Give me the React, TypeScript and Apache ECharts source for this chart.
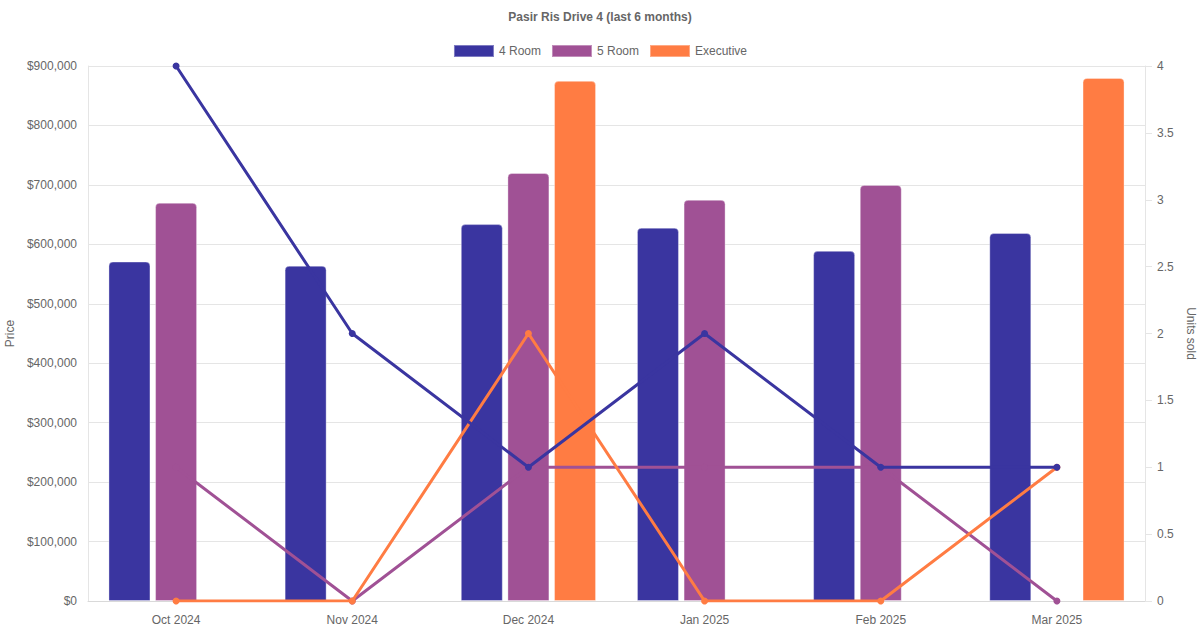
import React, { useEffect, useRef } from "react";
import * as echarts from "echarts";

const categories = ["Oct 2024", "Nov 2024", "Dec 2024", "Jan 2025", "Feb 2025", "Mar 2025"];
const seriesNames = ["4 Room", "5 Room", "Executive"];
const colors = ["#3a35a0", "#a05195", "#ff7c43"];

const price4Room = [571000, 564000, 634000, 628000, 589000, 619000];
const price5Room = [670000, null, 720000, 675000, 700000, null];
const priceExec = [null, null, 875000, null, null, 880000];

const units4Room = [4, 2, 1, 2, 1, 1];
const units5Room = [1, 0, 1, 1, 1, 0];
const unitsExec = [0, 0, 2, 0, 0, 1];

const FONT = "'Liberation Sans', Arial, Helvetica, sans-serif";
const TEXT = "#666";
const GRID = "#e5e5e5";

export default function App() {
  const ref = useRef<HTMLDivElement>(null);

  useEffect(() => {
    if (!ref.current) return;
    const chart = echarts.init(ref.current, undefined, { renderer: "svg" });
    const prices = [price4Room, price5Room, priceExec];
    const units = [units4Room, units5Room, unitsExec];
    const lineZ = [5, 3, 4];

    const barSeries = seriesNames.map((name, i) => ({
      name,
      type: "bar",
      yAxisIndex: 0,
      data: prices[i],
      barWidth: 42,
      barGap: "11%",
      z: 2,
      itemStyle: {
        color: colors[i],
        borderRadius: [4, 4, 0, 0],
        borderColor: "rgba(255,255,255,0.35)",
        borderWidth: 1,
      },
    }));

    const lineSeries = seriesNames.map((name, i) => ({
      name,
      type: "line",
      yAxisIndex: 1,
      data: units[i],
      z: lineZ[i],
      symbol: "circle",
      symbolSize: 7,
      lineStyle: { color: colors[i], width: 3 },
      itemStyle: { color: colors[i] },
    }));

    chart.setOption({
      animation: false,
      textStyle: { fontFamily: FONT },
      title: {
        text: "Pasir Ris Drive 4 (last 6 months)",
        left: "center",
        top: 11,
        padding: 0,
        textStyle: { fontSize: 12, fontWeight: "bold", color: TEXT, fontFamily: FONT },
      },
      legend: {
        data: seriesNames,
        top: 39,
        left: "center",
        icon: "rect",
        itemWidth: 40,
        itemHeight: 12,
        itemGap: 10,
        textStyle: { fontSize: 12, color: TEXT, fontFamily: FONT },
      },
      grid: {
        left: 88,
        right: 55,
        top: 66,
        bottom: 29,
        containLabel: false,
        outerBoundsMode: "none",
      },
      xAxis: {
        type: "category",
        data: categories,
        axisLine: { show: true, lineStyle: { color: "#d9d9d9", width: 1 } },
        axisTick: { show: false },
        axisLabel: { color: TEXT, fontSize: 12, margin: 13, fontFamily: FONT },
        splitLine: { show: false },
      },
      yAxis: [
        {
          type: "value",
          min: 0,
          max: 900000,
          interval: 100000,
          name: "Price",
          nameLocation: "middle",
          nameGap: 72,
          nameTextStyle: { color: TEXT, fontSize: 12, fontFamily: FONT },
          axisLine: { show: true, lineStyle: { color: GRID } },
          axisTick: { show: false },
          axisLabel: {
            color: TEXT,
            fontSize: 12,
            margin: 11,
            fontFamily: FONT,
            formatter: (v: number) => "$" + v.toLocaleString("en-US"),
          },
          splitLine: { show: true, lineStyle: { color: GRID, width: 1 } },
        },
        {
          type: "value",
          min: 0,
          max: 4,
          interval: 0.5,
          position: "right",
          name: "Units sold",
          nameLocation: "middle",
          nameRotate: -90,
          nameGap: 33,
          nameTextStyle: { color: TEXT, fontSize: 12, fontFamily: FONT },
          axisLine: { show: true, lineStyle: { color: GRID } },
          axisTick: { show: true, length: 7, lineStyle: { color: GRID } },
          axisLabel: { color: TEXT, fontSize: 12, margin: 12, fontFamily: FONT },
          splitLine: { show: false },
        },
      ],
      series: [...barSeries, ...lineSeries],
    });

    return () => chart.dispose();
  }, []);

  return (
    <div
      ref={ref}
      style={{ position: "fixed", left: 0, top: 0, width: 1200, height: 630, background: "#fff" }}
    />
  );
}
